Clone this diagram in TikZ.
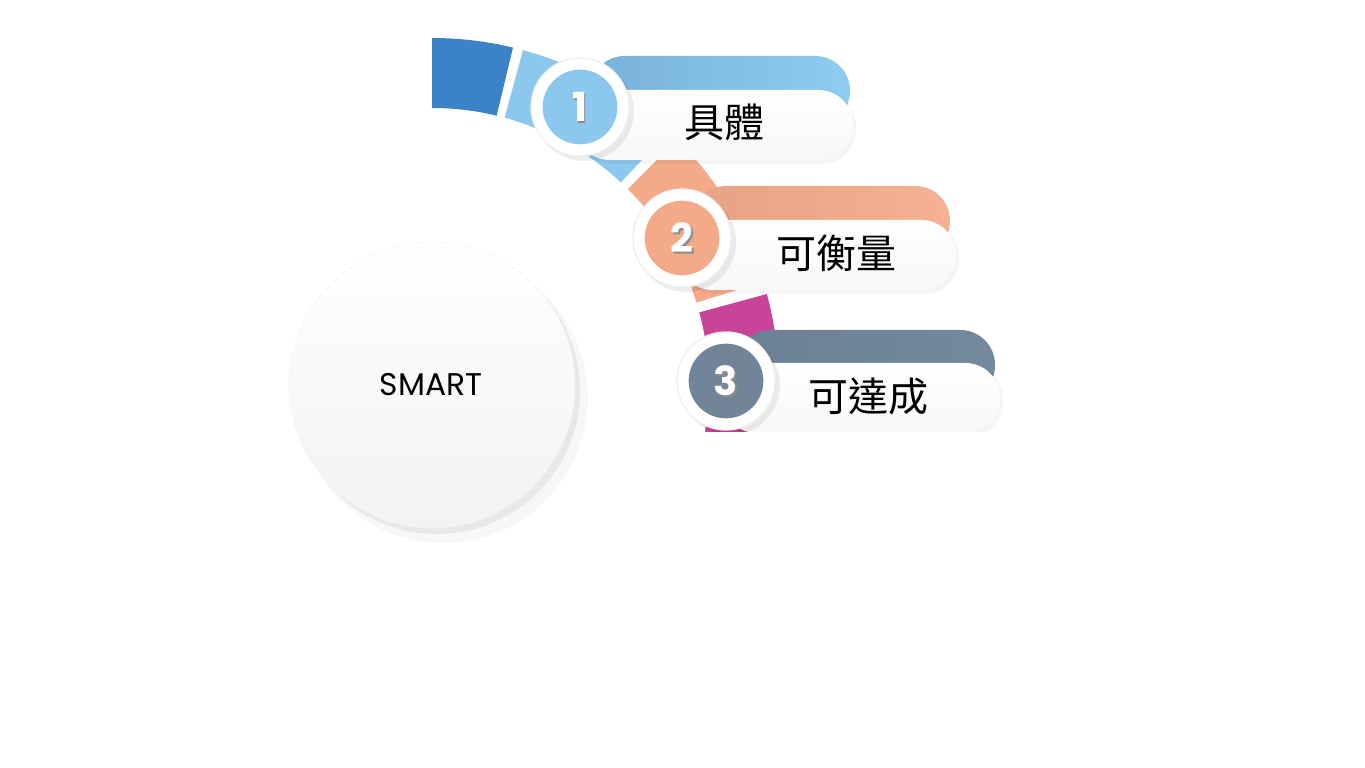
\documentclass[tikz,border=0pt]{standalone}
\usepackage{fontspec}
\setmainfont{Poppins}
\newfontfamily\cjk{Noto Sans CJK TC}
\usetikzlibrary{positioning}
\definecolor{xanhdam}{HTML}{3B82C6}
\definecolor{xanhnhat}{HTML}{8CC8EE}
\definecolor{camnhat}{HTML}{F4AA88}
\definecolor{hongdam}{HTML}{C94398}
\definecolor{xamxanh}{HTML}{71849A}
\definecolor{bang1a}{HTML}{78B1D9}
\definecolor{bang1b}{HTML}{8ECCF0}
\definecolor{bang2a}{HTML}{E7A286}
\definecolor{bang2b}{HTML}{F4B193}
\definecolor{bang3a}{HTML}{6C8095}
\definecolor{bang3b}{HTML}{74889E}
\tikzset{
  vong/.style={circle, fill=white, draw=black!6, line width=1pt, minimum size=73.5pt, inner sep=0pt},
  oso/.style={circle, minimum size=56pt, inner sep=0pt},
  chuso/.style={font=\bfseries\fontsize{30}{33}\selectfont, inner sep=0pt},
  chu/.style={font=\cjk\fontsize{30}{36}\selectfont, text=black, inner sep=0pt},
  bang/.style={rounded corners=26pt},
}
\begin{document}
\begin{tikzpicture}[x=0.75pt, y=0.75pt, line join=round, line cap=round]
		\def\rin{277} \def\rout{347} % vành ngoài
		\useasboundingbox (0,0) rectangle (1365,768);
		% vòng tròn SMART
		\fill[black!3] (443,370) circle[radius=145];
		\fill[black!9] (437,377) circle[radius=143];
		\shade[shading angle=45, top color=white, bottom color=black!5, draw=black!4] (432,383) circle[radius=143];
		\node (smart) at (431,383) [font=\fontsize{23.5}{28}\selectfont] {SMART};
		\begin{scope}
			\clip (0,0) -- (587,0) -- (587,336) -- (1365,336) -- (1365,768) -- (0,768) -- cycle;
			% các đoạn vành
			\begin{scope}[shift={(432,383)}]
				\fill[xanhdam] (76.5:\rout) arc[start angle=76.5, end angle=90, radius=\rout] -- (90:\rin) arc[start angle=90, end angle=76.5, radius=\rin] -- cycle;
				\fill[xanhnhat] (47:\rout) arc[start angle=47, end angle=74.8, radius=\rout] -- (74.8:\rin) arc[start angle=74.8, end angle=47, radius=\rin] -- cycle;
				\fill[camnhat] (17.3:\rout) arc[start angle=17.3, end angle=45, radius=\rout] -- (45:\rin) arc[start angle=45, end angle=17.3, radius=\rin] -- cycle;
				\fill[hongdam] (-13:\rout) arc[start angle=-13, end angle=15.2, radius=\rout] -- (15.2:\rin) arc[start angle=15.2, end angle=-13, radius=\rin] -- cycle;
			\end{scope}
			% bước 1
			\shade[bang, left color=bang1a, right color=bang1b] (590,642) rectangle (850,712);
			\fill[bang, black, opacity=0.04] (577,604) rectangle (856,676);
			\shade[bang, top color=white, bottom color=black!3] (575,608) rectangle (853,678);
			\fill[black, opacity=0.07] (584,657) circle[radius=50];
			\node[vong] (v1) at (580,661) {};
			\node[oso, fill=xanhnhat] (o1) at (v1) {};
			\node[chuso, text=black!45] at ([shift={(1.5,-2)}]o1) {1};
			\node[chuso, text=white] (s1) at (o1) {1};
			\node[chu] (t1) at (724,646) {具體};
			% bước 2
			\shade[bang, left color=bang2a, right color=bang2b] (692,512) rectangle (950,582);
			\fill[bang, black, opacity=0.04] (680,474) rectangle (959,546);
			\shade[bang, top color=white, bottom color=black!3] (678,478) rectangle (956,548);
			\fill[black, opacity=0.07] (686,526) circle[radius=50];
			\node[vong] (v2) at (682,530) {};
			\node[oso, fill=camnhat] (o2) at (v2) {};
			\node[chuso, text=black!45] at ([shift={(1.5,-2)}]o2) {2};
			\node[chuso, text=white] (s2) at (o2) {2};
			\node[chu] (t2) at (836,515) {可衡量};
			% bước 3
			\shade[bang, left color=bang3a, right color=bang3b] (736,368) rectangle (995,438);
			\fill[bang, black, opacity=0.04] (724,331) rectangle (1003,403);
			\shade[bang, top color=white, bottom color=black!3] (722,335) rectangle (1000,405);
			\fill[black, opacity=0.07] (730,383) circle[radius=50];
			\node[vong] (v3) at (726,387) {};
			\node[oso, fill=xamxanh] (o3) at (v3) {};
			\node[chuso, text=black!45] at ([shift={(1.5,-2)}]o3) {3};
			\node[chuso, text=white] (s3) at (o3) {3};
			\node[chu] (t3) at (868,372) {可達成};
		\end{scope}
\end{tikzpicture}
\end{document}
